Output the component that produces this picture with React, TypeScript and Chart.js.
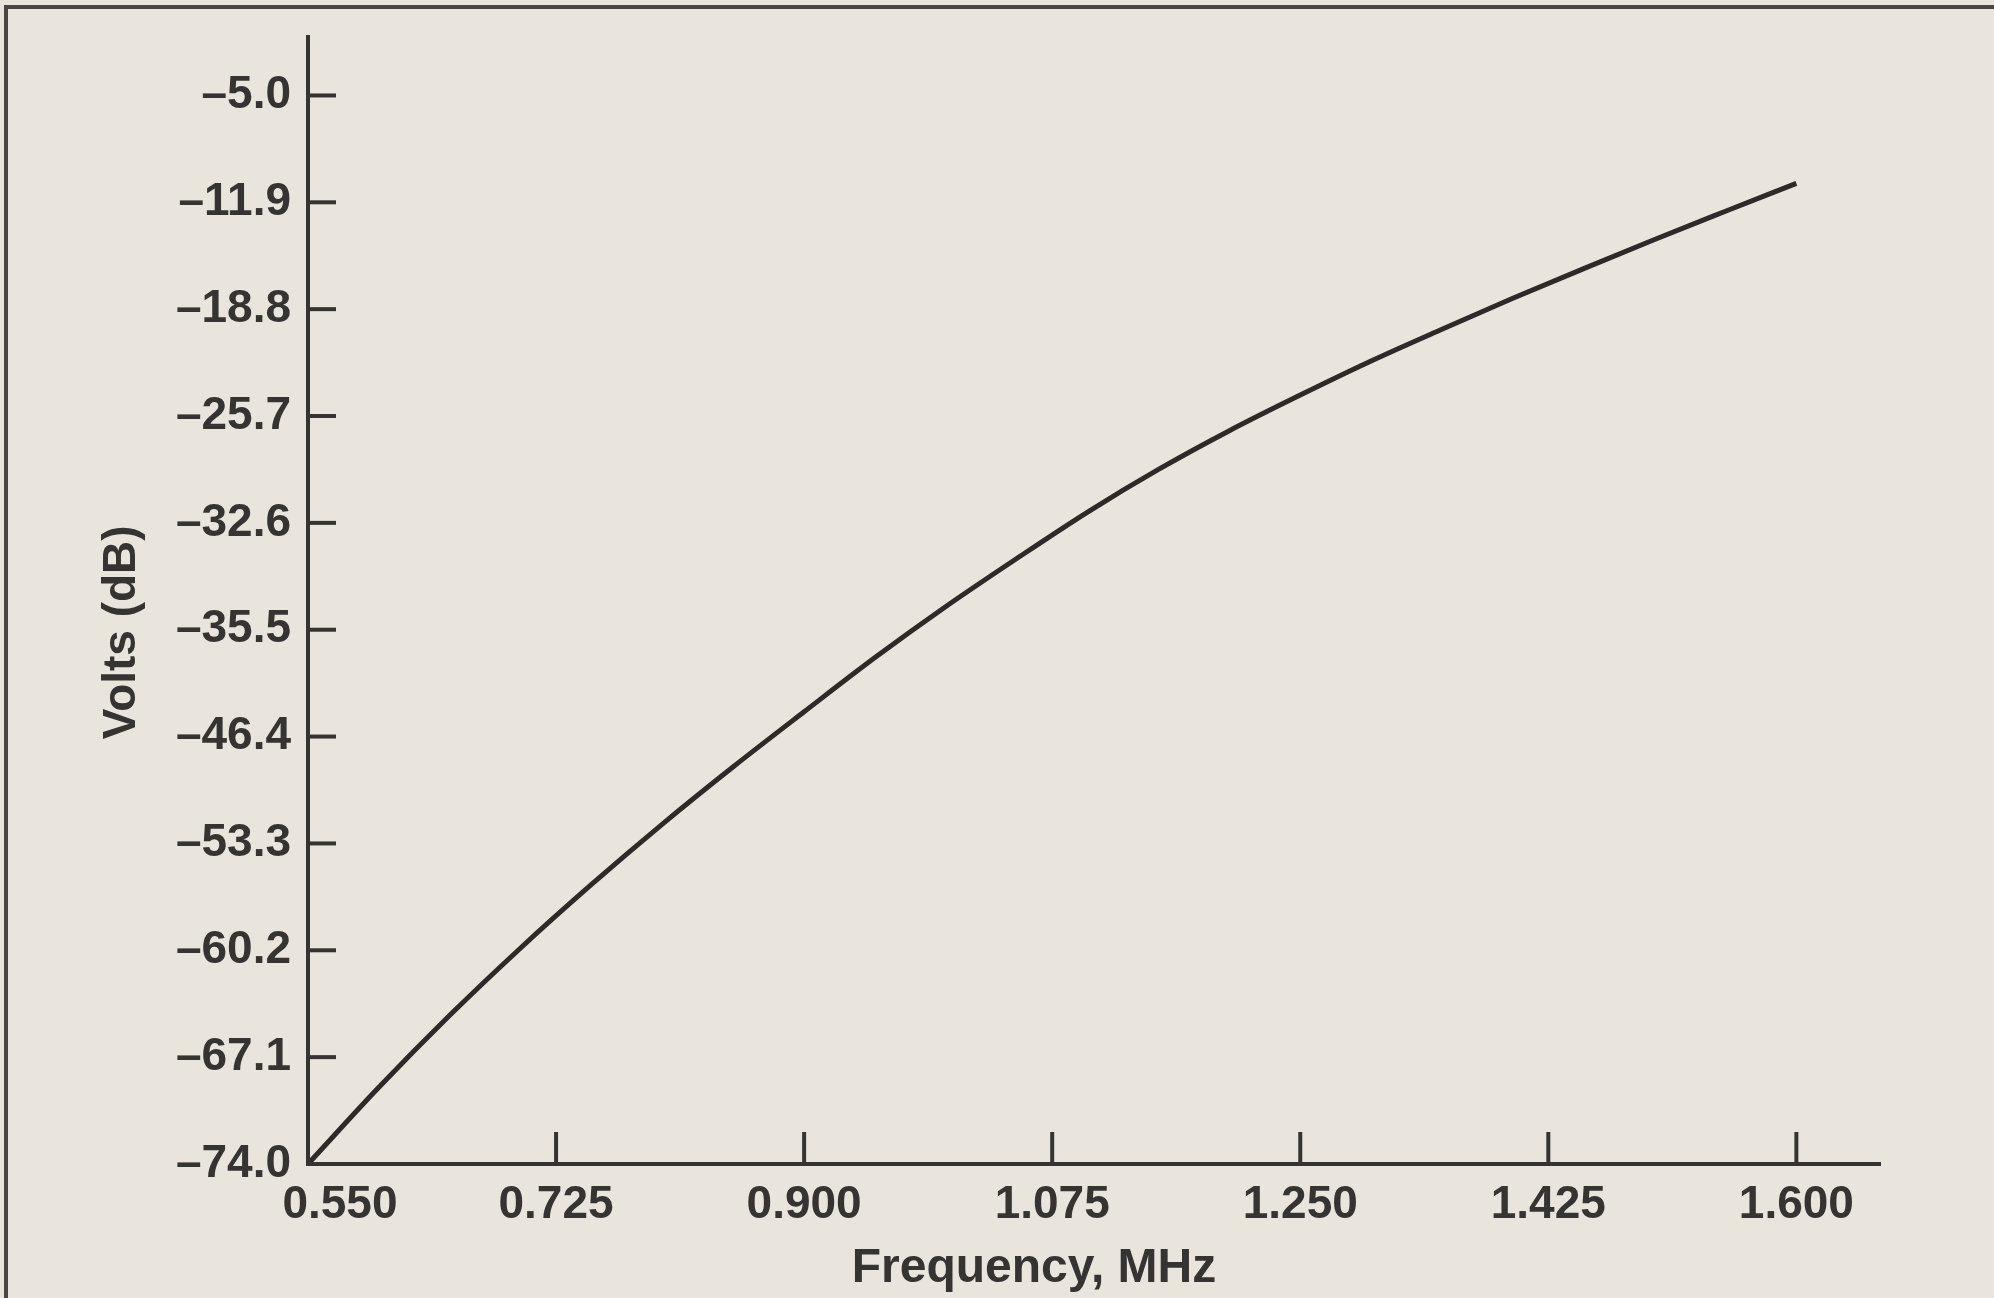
import React, { useEffect, useRef } from "react";
import { Chart, registerables } from "chart.js";

Chart.register(...registerables);

// ---- data ----
const frequencyMHz = [
  0.55, 0.6, 0.65, 0.7, 0.75, 0.8, 0.85, 0.9, 0.95, 1.0, 1.05,
  1.1, 1.15, 1.2, 1.25, 1.3, 1.35, 1.4, 1.45, 1.5, 1.55, 1.6,
];
const voltsDb = [
  -74.0, -69.05, -64.4, -60.05, -55.95, -52.05, -48.35, -44.8, -41.3, -38.0, -34.9,
  -31.9, -29.15, -26.65, -24.35, -22.15, -20.1, -18.1, -16.18, -14.3, -12.48, -10.68,
];
const xTickValues = [0.55, 0.725, 0.9, 1.075, 1.25, 1.425, 1.6];
const xTickLabels = ["0.550", "0.725", "0.900", "1.075", "1.250", "1.425", "1.600"];
const yTickValues = [-74.0, -67.1, -60.2, -53.3, -46.4, -39.5, -32.6, -25.7, -18.8, -11.9, -5.0];
const yTickLabels = [
  "–74.0", "–67.1", "–60.2", "–53.3", "–46.4", "–35.5",
  "–32.6", "–25.7", "–18.8", "–11.9", "–5.0",
];
const xTitle = "Frequency, MHz";
const yTitle = "Volts (dB)";

const INK = "#363333";
const PAPER = "#e9e4dc";
const FONT = "'Liberation Sans', Arial, Helvetica, sans-serif";

const innerTicks = {
  id: "innerTicks",
  afterDraw(chart: any) {
    const { ctx, chartArea } = chart;
    const xs = chart.scales.x;
    const ys = chart.scales.y;
    ctx.save();
    ctx.strokeStyle = INK;
    ctx.lineWidth = 4;
    ctx.lineCap = "butt";
    ys.ticks.forEach((t: any) => {
      const py = ys.getPixelForValue(t.value);
      ctx.beginPath();
      ctx.moveTo(chartArea.left, py);
      ctx.lineTo(chartArea.left + 28, py);
      ctx.stroke();
    });
    xs.ticks.forEach((t: any) => {
      const px = xs.getPixelForValue(t.value);
      ctx.beginPath();
      ctx.moveTo(px, chartArea.bottom);
      ctx.lineTo(px, chartArea.bottom - 32);
      ctx.stroke();
    });
    ctx.restore();
  },
};

export default function App() {
  const canvasRef = useRef<HTMLCanvasElement | null>(null);

  useEffect(() => {
    const canvas = canvasRef.current;
    if (!canvas) return;
    const chart = new Chart(canvas, {
      type: "line",
      data: {
        datasets: [
          {
            data: frequencyMHz.map((f, i) => ({ x: f, y: voltsDb[i] })),
            borderColor: "#2e2a29",
            borderWidth: 5,
            pointRadius: 0,
            cubicInterpolationMode: "monotone",
            fill: false,
          },
        ],
      },
      options: {
        responsive: false,
        animation: false,
        devicePixelRatio: 1,
        layout: { padding: { left: 95, top: 27.5, right: 114, bottom: 0 } },
        plugins: { legend: { display: false }, tooltip: { enabled: false } },
        scales: {
          x: {
            type: "linear",
            min: 0.55,
            max: 1.659,
            afterBuildTicks: (s: any) => {
              s.ticks = xTickValues.map((v) => ({ value: v }));
            },
            afterFit: (s: any) => {
              s.height = 134;
            },
            grid: { display: false },
            border: { display: true, color: INK, width: 4 },
            ticks: {
              autoSkip: false,
              maxRotation: 0,
              padding: 6,
              color: INK,
              font: { family: FONT, size: 46, weight: "bold" },
              callback: (_v: any, i: number) =>
                i === 0 ? "     " + xTickLabels[i] : xTickLabels[i],
            },
            title: {
              display: true,
              text: xTitle + "         ",
              color: INK,
              padding: 0,
              font: { family: FONT, size: 48, weight: "bold" },
            },
          },
          y: {
            type: "linear",
            min: -74,
            max: -1.2,
            afterBuildTicks: (s: any) => {
              s.ticks = yTickValues.map((v) => ({ value: v }));
            },
            afterFit: (s: any) => {
              s.width = 213;
            },
            grid: { display: false },
            border: { display: true, color: INK, width: 4 },
            ticks: {
              autoSkip: false,
              padding: 9,
              color: INK,
              font: { family: FONT, size: 46, weight: "bold" },
              callback: (_v: any, i: number) => yTickLabels[i],
            },
            title: {
              display: true,
              text: yTitle + "     ",
              color: INK,
              padding: 0,
              font: { family: FONT, size: 46, weight: "bold" },
            },
          },
        },
      },
      plugins: [innerTicks],
    } as any);
    return () => chart.destroy();
  }, []);

  return (
    <div
      style={{
        position: "fixed",
        left: 0,
        top: 0,
        width: 1994,
        height: 1298,
        background: PAPER,
        overflow: "hidden",
      }}
    >
      <div
        style={{
          position: "absolute",
          left: 4,
          top: 5,
          width: 2100,
          height: 1400,
          borderLeft: "4px solid #4a4646",
          borderTop: "4px solid #4a4646",
        }}
      />
      <canvas
        ref={canvasRef}
        width={1994}
        height={1298}
        style={{ position: "absolute", left: 0, top: 0, width: 1994, height: 1298 }}
      />
    </div>
  );
}
